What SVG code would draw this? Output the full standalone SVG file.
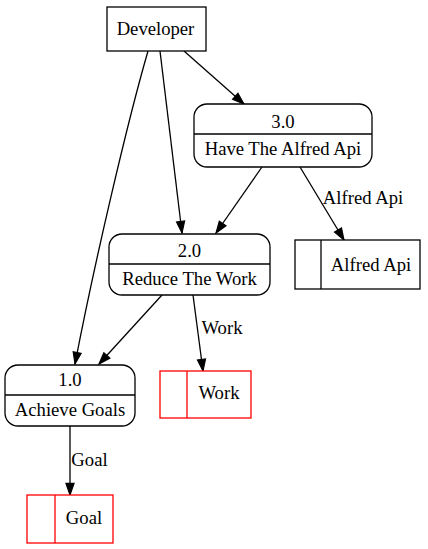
<svg xmlns="http://www.w3.org/2000/svg" width="428" height="549" viewBox="0 0 428 549">
<style>
text{font-family:'Liberation Serif','Times New Roman',Times,serif;font-size:18.67px;fill:#000;text-anchor:middle}
.n{fill:#fff;stroke:#000;stroke-width:1.3}
.r{fill:#fff;stroke:#f00;stroke-width:1.3}
.e{fill:none;stroke:#000;stroke-width:1.3}
</style>
<defs>
<marker id="a" markerUnits="userSpaceOnUse" markerWidth="14" markerHeight="12" refX="10" refY="3.5" orient="auto" viewBox="-1 -1 12 9">
<polygon points="0,0 10,3.5 0,7" fill="#000" stroke="#000"/>
</marker>
</defs>
<rect width="428" height="549" fill="#fff"/>
<g id="connectors">
<line class="e" x1="184" y1="51" x2="244" y2="104" marker-end="url(#a)"/>
<line class="e" x1="160" y1="51" x2="182" y2="233" marker-end="url(#a)"/>
<path class="e" d="M148,51 C128,120 95,260 75,364" marker-end="url(#a)"/>
<line class="e" x1="262" y1="167" x2="216" y2="233" marker-end="url(#a)"/>
<line class="e" x1="300" y1="167" x2="344" y2="240" marker-end="url(#a)"/>
<text x="363" y="204">Alfred Api</text>
<line class="e" x1="162" y1="295" x2="99" y2="364" marker-end="url(#a)"/>
<line class="e" x1="193" y1="295" x2="203" y2="371" marker-end="url(#a)"/>
<text x="222" y="334">Work</text>
<line class="e" x1="70" y1="426" x2="70" y2="495" marker-end="url(#a)"/>
<text x="89.5" y="466">Goal</text>
</g>
<g id="developer">
<rect class="n" x="107" y="7" width="99" height="44"/>
<text x="155.5" y="35">Developer</text>
</g>
<g id="p3">
<rect class="n" x="194" y="104" width="178" height="63" rx="13"/>
<line class="n" x1="194" y1="134" x2="372" y2="134"/>
<text x="283" y="128">3.0</text>
<text x="283" y="155">Have The Alfred Api</text>
</g>
<g id="p2">
<rect class="n" x="109" y="234" width="161" height="61" rx="13"/>
<line class="n" x1="109" y1="264" x2="270" y2="264"/>
<text x="189.5" y="257">2.0</text>
<text x="189.5" y="285">Reduce The Work</text>
</g>
<g id="p1">
<rect class="n" x="5" y="365" width="130" height="61" rx="13"/>
<line class="n" x1="5" y1="395" x2="135" y2="395"/>
<text x="70" y="386">1.0</text>
<text x="70" y="416">Achieve Goals</text>
</g>
<g id="s_alfred">
<rect class="n" x="295" y="240" width="125" height="49"/>
<line class="n" x1="321" y1="240" x2="321" y2="289"/>
<text x="371" y="271">Alfred Api</text>
</g>
<g id="s_work">
<rect class="r" x="160" y="371" width="91" height="47"/>
<line class="r" x1="187" y1="371" x2="187" y2="418"/>
<text x="219" y="399">Work</text>
</g>
<g id="s_goal">
<rect class="r" x="27" y="495" width="86" height="48"/>
<line class="r" x1="55" y1="495" x2="55" y2="543"/>
<text x="84" y="524">Goal</text>
</g>
</svg>
